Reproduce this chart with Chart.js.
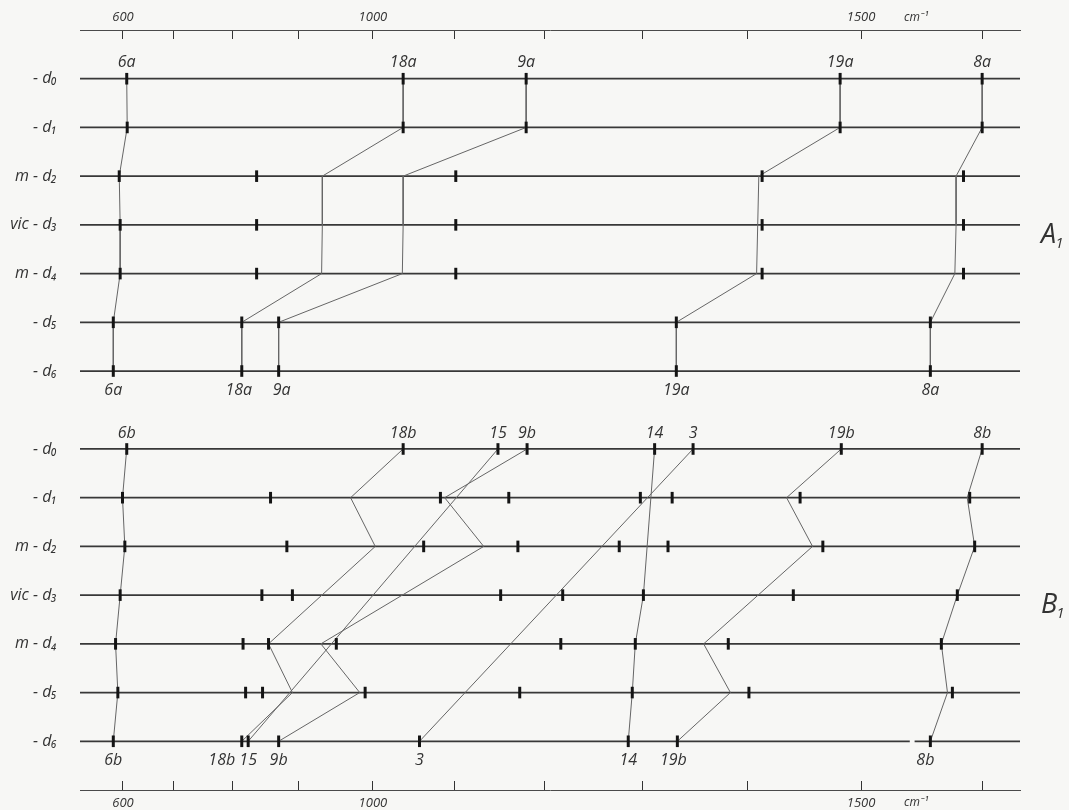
<!DOCTYPE html>
<html>
<head>
<meta charset="utf-8">
<script src="https://cdn.jsdelivr.net/npm/chart.js@4.4.0/dist/chart.umd.min.js"></script>
<style>
  html, body { margin: 0; padding: 0; background: #f7f7f5; }
  canvas { display: block; }
</style>
</head>
<body>
<canvas id="chart" width="1069" height="810"></canvas>
<script>
// Wavenumber axis (cm-1) and its tick marks
const xMin = 500;
const xMax = 1630;
const axisTicks = [600, 700, 800, 900, 1000, 1100, 1200, 1300, 1400, 1500, 1600];
const axisLabels = [600, 1000, 1500];

// Isotopomers, one row each
const rowNames = ['- d₀', '- d₁', 'm - d₂', 'vic - d₃', 'm - d₄', '- d₅', '- d₆'];

// Panel A1: observed bands per row (cm-1)
const bandsA = [
  [608, 1038, 1180, 1482, 1600],
  [609, 1038, 1180, 1482, 1600],
  [592, 838, 1101, 1413, 1585],
  [594, 838, 1101, 1413, 1585],
  [594, 838, 1101, 1413, 1585],
  [579, 815, 871, 1333, 1558],
  [579, 815, 871, 1333, 1558]
];
// Panel A1: correlation of the a-components from d0 to d6
const modesA = ['6a', '18a', '9a', '19a', '8a'];
const pathsA = [
  [608, 609, 592, 594, 594, 579, 579],
  [1038, 1038, 933, 933, 932, 815, 815],
  [1180, 1180, 1038, 1038, 1037, 871, 871],
  [1482, 1482, 1410, 1409, 1408, 1333, 1333],
  [1600, 1600, 1579, 1579, 1578, 1558, 1558]
];

// Panel B1: observed bands per row (cm-1)
const bandsB = [
  [608, 1038, 1149, 1181, 1312, 1349, 1483, 1600],
  [599, 859, 1083, 1161, 1298, 1329, 1447, 1590],
  [604, 883, 1063, 1171, 1277, 1325, 1467, 1594],
  [594, 846, 891, 1152, 1219, 1301, 1441, 1580],
  [584, 817, 856, 952, 1217, 1293, 1382, 1567],
  [589, 821, 847, 990, 1173, 1290, 1401, 1576],
  [579, 815, 825, 871, 1058, 1286, 1334, 1558]
];
// Panel B1: correlation of the b-components (null = line runs straight past the row)
const modesB = ['6b', '18b', '15', '9b', '3', '14', '19b', '8b'];
const pathsB = [
  [608, 599, 604, 594, 584, 589, 579],
  [1038, 971, 1003, null, 856, 891, 815],
  [1149, null, null, null, null, null, 825],
  [1181, 1088, 1133, null, 931, 983, 871],
  [1349, null, null, null, null, null, 1058],
  [1312, null, null, 1301, 1293, 1290, 1286],
  [1483, 1435, 1458, null, 1359, 1384, 1334],
  [1600, 1588, 1594, 1580, 1567, 1572, 1558]
];
// Interruption of the last baseline of panel B1 (cm-1)
const baselineBreakB = [1541, 1545];

// ---- layout / style ----
const panels = [
  { title: 'A', bands: bandsA, modes: modesA, paths: pathsA, offset: 0 },
  { title: 'B', bands: bandsB, modes: modesB, paths: pathsB, offset: 7.6 }
];
const labelNudge = { '18a': -3, '9a': 3, '18b': -20, '19b': -4, '8b': -5 };
const FONT = '"Open Sans", "Noto Sans", sans-serif';
const INK = '#333333';

// x position proportional to the square of the wavenumber
class SquareScale extends Chart.LinearScale {
  getPixelForValue(value) {
    if (value === null || value === undefined || isNaN(value)) return NaN;
    const a = this.min * this.min, b = this.max * this.max;
    return this.getPixelForDecimal((value * value - a) / (b - a));
  }
  getValueForPixel(pixel) {
    const a = this.min * this.min, b = this.max * this.max;
    return Math.sqrt(a + this.getDecimalForPixel(pixel) * (b - a));
  }
}
SquareScale.id = 'square';
SquareScale.defaults = Chart.LinearScale.defaults;
Chart.register(SquareScale);

const datasets = [];

// band markers
const markerPoints = [];
panels.forEach(p => p.bands.forEach((row, i) => row.forEach(v => markerPoints.push({ x: v, y: p.offset + i }))));
datasets.push({
  data: markerPoints, showLine: false,
  pointStyle: 'line', pointRotation: 90, pointRadius: 5.8,
  pointBorderWidth: 3, pointBorderColor: '#141414', order: 0
});

// correlation lines
panels.forEach(p => p.paths.forEach(path => {
  const pts = [];
  path.forEach((v, i) => { if (v !== null) pts.push({ x: v, y: p.offset + i }); });
  datasets.push({
    data: pts, showLine: true, pointRadius: 0,
    borderColor: '#666666', borderWidth: 1, order: 1
  });
}));

// baselines
panels.forEach(p => rowNames.forEach((n, i) => {
  const y = p.offset + i;
  const segs = (p.title === 'B' && i === 6)
    ? [[xMin, baselineBreakB[0]], [baselineBreakB[1], xMax]]
    : [[xMin, xMax]];
  segs.forEach(s => datasets.push({
    data: [{ x: s[0], y }, { x: s[1], y }], showLine: true, pointRadius: 0,
    borderColor: '#383838', borderWidth: 1.8, order: 2
  }));
}));

const rowValues = [];
panels.forEach(p => rowNames.forEach((n, i) => rowValues.push(p.offset + i)));

const textPlugin = {
  id: 'texts',
  beforeDraw(chart) {
    const ctx = chart.ctx;
    ctx.save();
    ctx.fillStyle = '#f7f7f5';
    ctx.fillRect(0, 0, chart.width, chart.height);
    ctx.restore();
  },
  afterDraw(chart) {
    const { ctx } = chart;
    const xs = chart.scales.x, ys = chart.scales.y;
    ctx.save();
    ctx.fillStyle = INK;
    ctx.textAlign = 'center';
    ctx.textBaseline = 'middle';
    const modeFont = 'italic 400 16px ' + FONT;
    ctx.font = modeFont;
    panels.forEach(p => {
      const yTop = ys.getPixelForValue(p.offset) - 16;
      const yBot = ys.getPixelForValue(p.offset + 6) + 19;
      p.modes.forEach((m, k) => {
        const path = p.paths[k];
        ctx.fillText(m, xs.getPixelForValue(path[0]), yTop);
        ctx.fillText(m, xs.getPixelForValue(path[6]) + (labelNudge[m] || 0), yBot);
      });
      // panel title with subscript
      const ty = ys.getPixelForValue(p.offset + 3) + 10;
      ctx.textAlign = 'left';
      ctx.font = 'italic 400 27px ' + FONT;
      ctx.fillText(p.title, 1041, ty);
      const w = ctx.measureText(p.title).width;
      ctx.font = 'italic 400 15px ' + FONT;
      ctx.fillText('1', 1041 + w - 1, ty + 9);
      ctx.textAlign = 'center';
      ctx.font = modeFont;
    });
    // unit next to the 1500 label, top and bottom
    ctx.font = 'italic 400 12px ' + FONT;
    const ux = xs.getPixelForValue(1500) + 55;
    ctx.fillText('cm⁻¹', ux, 18);
    ctx.fillText('cm⁻¹', ux, 803);
    ctx.restore();
  }
};

function axisOptions(position, height, pad) {
  return {
    type: 'square', position, min: xMin, max: xMax,
    afterFit: s => { s.height = height; s.paddingLeft = 0; s.paddingRight = 0; },
    afterBuildTicks: s => { s.ticks = axisTicks.map(v => ({ value: v })); },
    grid: { display: true, drawOnChartArea: false, drawTicks: true, tickLength: -9, tickColor: '#333', tickWidth: 1 },
    border: { display: true, color: '#4a4a4a', width: 1 },
    ticks: {
      autoSkip: false, maxRotation: 0, padding: pad, color: INK,
      font: { family: FONT, size: 13, style: 'italic', weight: '400' },
      callback: v => axisLabels.includes(v) ? String(v) : ''
    }
  };
}

new Chart(document.getElementById('chart'), {
  type: 'scatter',
  data: { datasets },
  options: {
    responsive: false, animation: false, devicePixelRatio: 1, events: [],
    layout: { padding: { left: 0, right: 49, top: 0, bottom: 0 } },
    plugins: { legend: { display: false }, tooltip: { enabled: false } },
    scales: {
      x: axisOptions('top', 30, 13.5),
      x2: axisOptions('bottom', 20, 14.5),
      y: {
        type: 'linear', position: 'left', reverse: true, min: -1, max: 14.6,
        afterFit: s => { s.width = 80; s.paddingTop = 0; s.paddingBottom = 0; },
        afterBuildTicks: s => { s.ticks = rowValues.map(v => ({ value: v })); },
        grid: { display: false },
        border: { display: false },
        ticks: {
          autoSkip: false, padding: 15, color: INK,
          font: { family: FONT, size: 16, style: 'italic', weight: '400' },
          callback: (v, i) => rowNames[i % rowNames.length]
        }
      }
    }
  },
  plugins: [textPlugin]
});
</script>
</body>
</html>
